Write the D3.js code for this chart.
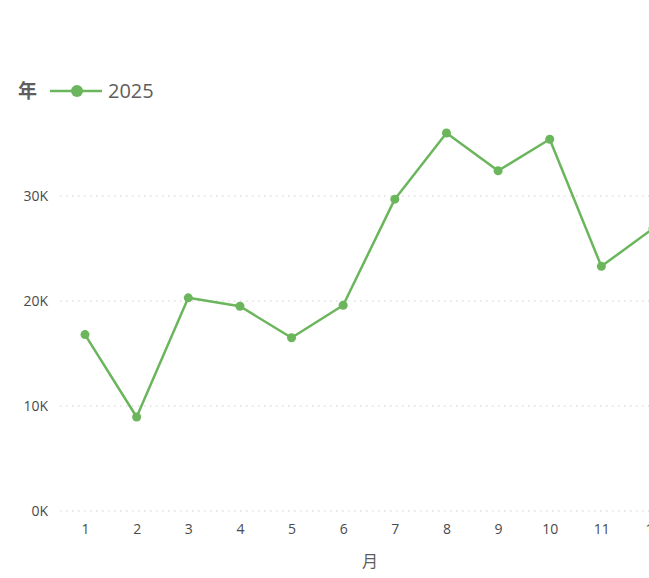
<!DOCTYPE html>
<html>
<head>
<meta charset="utf-8">
<script src="https://cdn.jsdelivr.net/npm/d3@7"></script>
<style>
  html, body { margin: 0; padding: 0; background: #fff; overflow: hidden; width: 649px; height: 578px; }
  svg { display: block; font-family: "Segoe UI", "Open Sans", "Noto Sans CJK SC", sans-serif; }
</style>
</head>
<body>
<svg id="chart" width="720" height="578"></svg>
<script>
// data
const months = ["1", "2", "3", "4", "5", "6", "7", "8", "9", "10", "11", "12"];
const sales2025 = [16800, 8950, 20300, 19500, 16500, 19600, 29700, 36000, 32400, 35400, 23300, 26900];
const yTicks = [0, 10000, 20000, 30000];
const seriesName = "2025";
const legendTitle = "年";
const xTitle = "月";

const color = "#6bb65c";
const svg = d3.select("#chart");

const x = d3.scalePoint().domain(months).range([85, 653]);
const y = d3.scaleLinear().domain([0, 30000]).range([511, 196]);

// grid lines
svg.append("g").selectAll("line").data(yTicks).join("line")
  .attr("x1", 60).attr("x2", 720)
  .attr("y1", d => y(d)).attr("y2", d => y(d))
  .attr("stroke", "#cfcfcf").attr("stroke-width", 1)
  .attr("stroke-dasharray", "1.5,4.5");

// y axis labels
const yAxis = svg.append("g").attr("transform", "translate(48,0)")
  .call(d3.axisLeft(y).tickValues(yTicks).tickSize(0).tickPadding(0)
    .tickFormat(d => (d / 1000) + "K"));
yAxis.select(".domain").remove();
yAxis.selectAll("text").attr("fill", "#4a4a4a").style("font-size", "14px")
  .style("font-family", "\"Segoe UI\", \"Open Sans\", sans-serif");

// x axis labels
const xAxis = svg.append("g").attr("transform", "translate(0,521)")
  .call(d3.axisBottom(x).tickSize(0).tickPadding(3));
xAxis.select(".domain").remove();
xAxis.selectAll("text").attr("fill", "#4a4a4a").style("font-size", "14px")
  .style("font-family", "\"Segoe UI\", \"Open Sans\", sans-serif");

svg.append("text").attr("x", 370).attr("y", 567).attr("text-anchor", "middle")
  .attr("fill", "#605e5c").style("font-size", "16px").text(xTitle);

// line + points
const line = d3.line().x((d, i) => x(months[i])).y(d => y(d));
svg.append("path").datum(sales2025)
  .attr("d", line).attr("fill", "none")
  .attr("stroke", color).attr("stroke-width", 2.5).attr("stroke-linejoin", "round");

svg.append("g").selectAll("circle").data(sales2025).join("circle")
  .attr("cx", (d, i) => x(months[i])).attr("cy", d => y(d))
  .attr("r", 4.5).attr("fill", color);

// legend
const legend = svg.append("g");
legend.append("text").attr("x", 18).attr("y", 98)
  .attr("fill", "#605e5c").style("font-size", "19px").style("font-weight", "bold")
  .text(legendTitle);
legend.append("line").attr("x1", 50).attr("x2", 102).attr("y1", 91).attr("y2", 91)
  .attr("stroke", color).attr("stroke-width", 2.5);
legend.append("circle").attr("cx", 77).attr("cy", 91).attr("r", 6).attr("fill", color);
legend.append("text").attr("x", 108).attr("y", 98)
  .attr("fill", "#605e5c").style("font-size", "20px").text(seriesName);
</script>
</body>
</html>
